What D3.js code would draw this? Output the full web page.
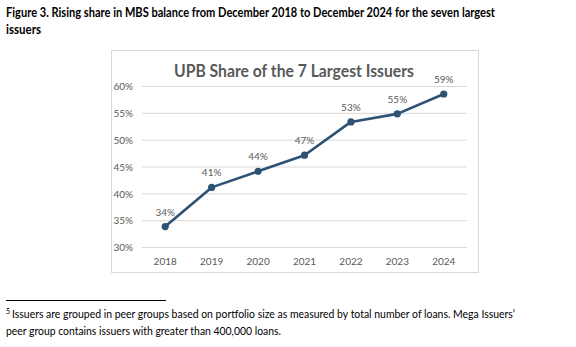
<!DOCTYPE html>
<html>
<head>
<meta charset="utf-8">
<script src="https://cdn.jsdelivr.net/npm/d3@7"></script>
<style>
  body { margin: 0; background: #fff; }
  svg { display: block; }
</style>
</head>
<body>
<svg id="fig" width="576" height="347"></svg>
<script>
// yearly share of UPB held by the seven largest issuers
const years = ["2018", "2019", "2020", "2021", "2022", "2023", "2024"];
const shares = [33.9, 41.2, 44.2, 47.2, 53.4, 54.9, 58.6];
const shareLabels = ["34%", "41%", "44%", "47%", "53%", "55%", "59%"];
const yTicks = [30, 35, 40, 45, 50, 55, 60];

const svg = d3.select("#fig");
const font = "Lato, 'Open Sans', sans-serif";

// caption above the chart (squeezed to the narrow body font width)
svg.append("text")
  .attr("x", 6).attr("y", 17)
  .attr("font-family", font).attr("font-weight", "bold")
  .attr("font-size", 12.5).attr("fill", "#000")
  .attr("textLength", 489).attr("lengthAdjust", "spacingAndGlyphs")
  .text("Figure 3. Rising share in MBS balance from December 2018 to December 2024 for the seven largest");
svg.append("text")
  .attr("x", 6).attr("y", 34)
  .attr("font-family", font).attr("font-weight", "bold")
  .attr("font-size", 12.5).attr("fill", "#000")
  .attr("textLength", 35).attr("lengthAdjust", "spacingAndGlyphs")
  .text("issuers");

// chart frame
svg.append("rect")
  .attr("x", 111.5).attr("y", 50.5)
  .attr("width", 367).attr("height", 222)
  .attr("fill", "#fff").attr("stroke", "#d9d9d9");

svg.append("text")
  .attr("x", 294).attr("y", 77)
  .attr("text-anchor", "middle")
  .attr("font-family", font).attr("font-weight", "bold")
  .attr("font-size", 16.5).attr("fill", "#595959")
  .attr("textLength", 240).attr("lengthAdjust", "spacingAndGlyphs")
  .text("UPB Share of the 7 Largest Issuers");

const x = d3.scaleBand().domain(years).range([142, 467]);
const y = d3.scaleLinear().domain([30, 60]).range([247.5, 86.5]);

// gridlines
svg.append("g")
  .selectAll("line")
  .data(yTicks)
  .join("line")
  .attr("x1", 142).attr("x2", 467)
  .attr("y1", d => y(d)).attr("y2", d => y(d))
  .attr("stroke", "#d9d9d9").attr("stroke-width", 1);

// y axis labels
const yAxis = svg.append("g")
  .attr("transform", "translate(142,0)")
  .call(d3.axisLeft(y).tickValues(yTicks).tickFormat(d => d + "%").tickSize(0).tickPadding(9));
yAxis.select(".domain").remove();
yAxis.selectAll("text")
  .attr("font-family", font).attr("font-size", 10).attr("fill", "#595959");

// x axis labels
const xAxis = svg.append("g")
  .attr("transform", "translate(0,247.5)")
  .call(d3.axisBottom(x).tickSize(0).tickPadding(10));
xAxis.select(".domain").remove();
xAxis.selectAll("text")
  .attr("font-family", font).attr("font-size", 10).attr("fill", "#595959");

const cx = d => x(d) + x.bandwidth() / 2;
const pts = years.map((yr, i) => ({ yr, v: shares[i], label: shareLabels[i] }));

svg.append("path")
  .datum(pts)
  .attr("fill", "none")
  .attr("stroke", "#2d5274")
  .attr("stroke-width", 2.6)
  .attr("stroke-linejoin", "round")
  .attr("d", d3.line().x(d => cx(d.yr)).y(d => y(d.v)));

svg.append("g")
  .selectAll("circle")
  .data(pts)
  .join("circle")
  .attr("cx", d => cx(d.yr)).attr("cy", d => y(d.v))
  .attr("r", 3.6)
  .attr("fill", "#2d5274");

svg.append("g")
  .selectAll("text")
  .data(pts)
  .join("text")
  .attr("x", d => cx(d.yr)).attr("y", d => y(d.v) - 11)
  .attr("text-anchor", "middle")
  .attr("font-family", font).attr("font-size", 10).attr("fill", "#595959")
  .text(d => d.label);

// footnote
svg.append("line")
  .attr("x1", 6).attr("x2", 166)
  .attr("y1", 300.5).attr("y2", 300.5)
  .attr("stroke", "#000").attr("stroke-width", 1);

svg.append("text")
  .attr("x", 6).attr("y", 314)
  .attr("font-family", font).attr("font-size", 7).attr("fill", "#000")
  .text("5");
svg.append("text")
  .attr("x", 12).attr("y", 318)
  .attr("font-family", font).attr("font-size", 11).attr("fill", "#000")
  .attr("textLength", 503).attr("lengthAdjust", "spacingAndGlyphs")
  .text(" Issuers are grouped in peer groups based on portfolio size as measured by total number of loans.  Mega Issuers’");
svg.append("text")
  .attr("x", 6).attr("y", 335)
  .attr("font-family", font).attr("font-size", 11).attr("fill", "#000")
  .attr("textLength", 275).attr("lengthAdjust", "spacingAndGlyphs")
  .text("peer group contains issuers with greater than 400,000 loans.");
</script>
</body>
</html>
